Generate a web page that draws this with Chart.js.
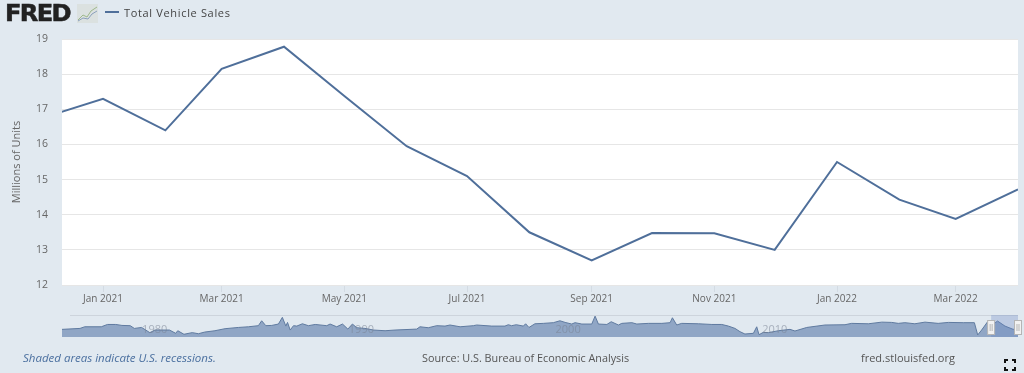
<!DOCTYPE html>
<html>
<head>
<meta charset="utf-8">
<script src="https://cdn.jsdelivr.net/npm/chart.js@4/dist/chart.umd.min.js"></script>
<style>
  html, body { margin: 0; padding: 0; background: #e1e9f0; }
  #page { position: relative; width: 1024px; height: 373px; overflow: hidden; background: #e1e9f0; font-family: "Open Sans", sans-serif; }
  canvas { position: absolute; left: 0; }
  .txt { position: absolute; white-space: nowrap; font-size: 11px; color: #555; }
  #logo { position: absolute; left: 5px; top: 0px; font: bold 23px "DejaVu Sans", sans-serif; letter-spacing: -1.6px; color: #222; -webkit-text-stroke: 0.5px #222; transform: scaleX(1.05); transform-origin: left; }
  #legendLine { position: absolute; left: 105px; top: 11px; width: 14px; height: 2px; background: #4f6f9a; }
  #legendText { left: 124px; top: 5px; font-size: 11px; letter-spacing: 0.66px; color: #444; }
</style>
</head>
<body>
<div id="page">
  <canvas id="grafico" width="1024" height="373" style="top:0"></canvas>
  <canvas id="navegador" width="1024" height="32" style="top:310px"></canvas>

  <div id="logo">FRED</div>
  <svg style="position:absolute;left:77px;top:4px" width="21" height="19">
    <rect width="21" height="19" fill="#dbe1e0"/>
    <polyline points="1,16 6,11 10,13 14,7 20,3" fill="none" stroke="#9db88b" stroke-width="1"/>
    <polyline points="1,17 6,14 11,15 15,10 20,7" fill="none" stroke="#8ba0bc" stroke-width="1"/>
  </svg>
  <div id="legendLine"></div>
  <div id="legendText" class="txt"></div>

  <div class="txt" style="left:23px;top:350px;font-size:11.5px;font-style:italic;color:#4a6f9f">Shaded areas indicate U.S. recessions.</div>
  <div class="txt" style="left:422px;top:350px;font-size:10.8px">Source: U.S. Bureau of Economic Analysis</div>
  <div class="txt" style="left:861px;top:350px">fred.stlouisfed.org</div>

  <svg style="position:absolute;left:1004px;top:359px" width="12" height="12" fill="none" stroke="#111" stroke-width="2">
    <path d="M1 4V1H4M8 1H11V4M11 8V11H8M4 11H1V8"/>
  </svg>
</div>

<script>
// dados do grafico principal
const seriesName = 'Total Vehicle Sales';
const months = ['2020-12-01', '2021-01-01', '2021-02-01', '2021-03-01', '2021-04-01', '2021-05-01', '2021-06-01', '2021-07-01', '2021-08-01',
  '2021-09-01', '2021-10-01', '2021-11-01', '2021-12-01', '2022-01-01', '2022-02-01', '2022-03-01', '2022-04-01'];
const sales = [16.74, 17.3, 16.4, 18.15, 18.78, 17.38, 15.95, 15.1, 13.5, 12.7, 13.48, 13.47, 13.0, 15.5, 14.43, 13.88, 14.72];
const tickMonths = ['2021-01-01', '2021-03-01', '2021-05-01', '2021-07-01', '2021-09-01', '2021-11-01', '2022-01-01', '2022-03-01'];
const tickLabels = ['Jan 2021', 'Mar 2021', 'May 2021', 'Jul 2021', 'Sep 2021', 'Nov 2021', 'Jan 2022', 'Mar 2022'];

// dados do navegador (historico completo)
const navYears = [1976, 1976.87, 1977.1, 1977.9, 1978.2, 1978.6, 1978.9, 1979.3, 1979.5, 1979.85, 1980.25, 1980.5, 1981.2, 1981.5, 1981.6, 1981.9, 1982.3, 1982.6, 1982.9, 1983.4,
  1983.89, 1984.53, 1985.02, 1985.5, 1985.66, 1985.86, 1986.15, 1986.47, 1986.66, 1986.83, 1986.91, 1987.04, 1987.2, 1987.36, 1987.63, 1987.92, 1988.25, 1988.81, 1988.97, 1989.29, 1989.57, 1989.83, 1990.05, 1990.26, 1990.66, 1991.07, 1991.63,
  1992.11, 1993.16, 1993.32, 1993.72, 1994.13, 1994.53, 1994.77, 1995.26, 1995.9, 1996.06, 1996.79, 1997.43, 1997.59, 1997.75, 1997.98, 1998.32, 1998.43, 1998.59, 1998.88, 1999.29, 1999.77, 2000.09,
  2000.34, 2000.66, 2000.82, 2001.15, 2001.63, 2001.79, 2001.95, 2002.36, 2002.57, 2002.92, 2003.08, 2003.57, 2003.81, 2004.37, 2005.02, 2005.42, 2005.53, 2005.74, 2005.98, 2006.79, 2007.44, 2007.92, 2008.24,
  2008.56, 2008.8, 2009.04, 2009.45, 2009.61, 2009.72, 2009.93, 2010.17, 2010.66, 2011.22, 2011.46, 2012.03, 2012.91, 2013.88, 2014.2, 2015.01, 2015.66, 2016.14, 2016.46,
  2016.78, 2017.26, 2017.75, 2018.39, 2018.88, 2019.6, 2020.14, 2020.3, 2020.49, 2020.78, 2021.0, 2021.26, 2021.62, 2022.02, 2022.25];
const navSales = [13.0, 13.7, 14.9, 14.9, 16.6, 16.6, 15.9, 15.7, 13.7, 14.4, 10.6, 12.5, 12.5, 10.1, 12.0, 9.4, 10.6, 9.8, 11.0, 12.0,
  13.5, 14.4, 14.9, 15.7, 19.3, 15.7, 15.9, 16.9, 21.8, 15.4, 18.1, 12.5, 15.7, 15.4, 17.1, 15.7, 16.6, 15.7, 16.9, 14.9, 16.9, 13.2, 16.9, 14.2, 13.7, 12.5, 12.0,
  12.5, 13.2, 14.9, 14.2, 15.7, 15.4, 16.2, 14.9, 15.7, 16.2, 15.4, 15.4, 16.4, 15.7, 16.4, 15.4, 17.1, 14.4, 17.1, 17.4, 17.9, 19.3,
  18.1, 16.9, 17.9, 16.9, 16.9, 22.7, 16.9, 16.6, 18.6, 16.2, 17.4, 17.9, 16.9, 17.4, 17.4, 17.9, 21.5, 16.2, 17.4, 17.1, 16.6, 16.6, 15.4,
  13.7, 11.3, 9.6, 10.1, 14.9, 9.1, 10.8, 10.6, 12.0, 13.0, 11.8, 14.4, 16.2, 16.4, 17.4, 17.1, 18.3, 18.1, 17.4,
  17.9, 17.1, 18.3, 17.4, 18.1, 17.9, 17.9, 8.9, 12.5, 18.6, 16.2, 19.1, 15.4, 13.0, 14.72];
const navTickYears = [1980, 1990, 2000, 2010];
const selStart = 2020.95;
const selEnd = 2022.25;

const FONTE = '"Open Sans", sans-serif';
const dayOf = s => (Date.parse(s) - Date.parse('2021-01-01')) / 86400000;

document.getElementById('legendText').textContent = seriesName;

new Chart(document.getElementById('grafico'), {
  type: 'line',
  data: {
    datasets: [{
      label: seriesName,
      data: months.map((m, i) => ({ x: dayOf(m), y: sales[i] })),
      borderColor: '#4f6f9a',
      borderWidth: 2,
      pointRadius: 0,
      tension: 0,
      fill: false
    }]
  },
  options: {
    responsive: false,
    animation: false,
    layout: { padding: { top: 39, right: 6, left: 0, bottom: 0 } },
    plugins: {
      legend: { display: false },
      tooltip: { enabled: false }
    },
    scales: {
      x: {
        type: 'linear',
        min: -20.4,
        max: dayOf('2022-04-01'),
        afterBuildTicks: s => { s.ticks = tickMonths.map(m => ({ value: dayOf(m) })); },
        afterFit: s => { s.height = 88; },
        grid: { drawOnChartArea: false, tickLength: 7, tickColor: '#d3dbe3' },
        border: { display: false },
        ticks: {
          autoSkip: false,
          maxRotation: 0,
          padding: 1,
          color: '#666',
          font: { family: FONTE, size: 10 },
          callback: v => tickLabels[tickMonths.findIndex(m => dayOf(m) === v)]
        }
      },
      y: {
        min: 12,
        max: 19,
        afterFit: s => { s.width = 62; },
        grid: { color: '#e6e6e6', drawTicks: false },
        border: { display: false },
        ticks: { stepSize: 1, padding: 14, color: '#666', font: { family: FONTE, size: 10.5 } },
        title: { display: true, text: 'Millions of Units', color: '#666', font: { family: FONTE, size: 11 }, padding: { top: 10, bottom: 0 } }
      }
    }
  },
  plugins: [{
    // area branca do grafico
    id: 'fundo',
    beforeDraw(chart) {
      const a = chart.chartArea;
      chart.ctx.fillStyle = '#fff';
      chart.ctx.fillRect(a.left, a.top, a.right - a.left, a.bottom - a.top);
    }
  }]
});

// navegador embaixo do grafico
new Chart(document.getElementById('navegador'), {
  type: 'line',
  data: {
    datasets: [{
      data: navYears.map((y, i) => ({ x: y, y: navSales[i] })),
      borderColor: '#5f7a9f',
      borderWidth: 1,
      backgroundColor: '#90a6c5',
      fill: 'start',
      pointRadius: 0,
      tension: 0
    }]
  },
  options: {
    responsive: false,
    animation: false,
    layout: { padding: { top: 6, right: 6, left: 62, bottom: 5 } },
    plugins: { legend: { display: false }, tooltip: { enabled: false } },
    scales: {
      x: { type: 'linear', display: false, min: 1976, max: 2022.25 },
      y: { display: false, min: 7.4, max: 22.8 }
    }
  },
  plugins: [{
    id: 'overlay',
    afterDatasetsDraw(chart) {
      const ctx = chart.ctx, a = chart.chartArea, x = chart.scales.x;
      ctx.save();

      // anos por cima da area
      ctx.fillStyle = 'rgba(120,130,145,0.55)';
      ctx.font = '11px ' + FONTE;
      ctx.textAlign = 'center';
      ctx.textBaseline = 'middle';
      navTickYears.forEach(y => ctx.fillText(String(y), x.getPixelForValue(y) + 10, a.top + 14));

      // linha de cima
      ctx.strokeStyle = '#cdd4dc';
      ctx.beginPath();
      ctx.moveTo(70, a.top - 0.5);
      ctx.lineTo(a.right, a.top - 0.5);
      ctx.stroke();

      // selecao
      const x0 = x.getPixelForValue(selStart), x1 = x.getPixelForValue(selEnd);
      ctx.fillStyle = 'rgba(102,133,194,0.3)';
      ctx.fillRect(x0, a.top - 1, x1 - x0, a.bottom - a.top + 1);

      // alcas
      [x0, x1].forEach(px => {
        ctx.fillStyle = '#f2f2f2';
        ctx.strokeStyle = '#b5b5b5';
        ctx.fillRect(px - 3.5, a.top + 4.5, 7, 14);
        ctx.strokeRect(px - 3.5, a.top + 4.5, 7, 14);
        ctx.beginPath();
        ctx.moveTo(px - 1, a.top + 8);
        ctx.lineTo(px - 1, a.top + 15);
        ctx.moveTo(px + 1, a.top + 8);
        ctx.lineTo(px + 1, a.top + 15);
        ctx.stroke();
      });
      ctx.restore();
    }
  }]
});
</script>
</body>
</html>
